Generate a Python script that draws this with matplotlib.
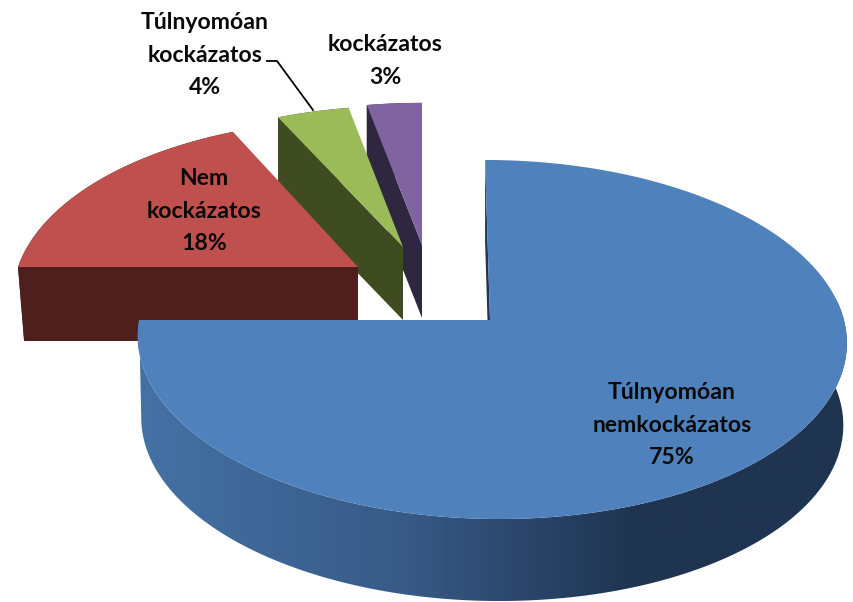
import numpy as np
import matplotlib
matplotlib.use('Agg')
import matplotlib.pyplot as plt
from matplotlib.patches import Polygon
from matplotlib.colors import LinearSegmentedColormap

labels = ['Túlnyomóan\nnemkockázatos', 'Nem\nkockázatos', 'Túlnyomóan\nkockázatos', 'kockázatos']
values = [75, 18, 4, 3]

top_colors = ['#4F81BD', '#C0504D', '#9BBB59', '#8064A2']
side_colors = ['#1F3552', '#4D1F1D', '#3F4B20', '#2F2640']

# apex, radii and perspective of each slice
apex_x = [490, 358, 403, 422]
apex_y = [320, 267, 247, 245]
center_dx = [1.5, 0, 0, 0]
radius = [352.4, 340, 340, 345]
radius_y = [177.4, 173, 166, 167]
persp = [0.1086, 0.175, 0.175, 0.175]
lean = [0.04, 0, 0, 0]
# wall height and narrowing at the bottom
wall = [82, 74, 73, 73]
shrink = [0.01, 0.018, 0, 0]

label_x = [672, 204, 205, 385]
label_y = [425, 211, 55, 61]


def rim(i, theta, bottom=False):
    # one point of slice i at angle theta (clockwise from 12 o'clock)
    f = 1 / (1 + persp[i] * np.cos(theta))
    dy = radius_y[i] * np.cos(theta) * f
    cx = apex_x[i] + center_dx[i]
    x = cx + radius[i] * np.sin(theta) * f - lean[i] * dy
    y = apex_y[i] - dy
    if bottom:
        x = cx + radius[i] * np.sin(theta) * f * (1 - shrink[i]) - lean[i] * dy
        y = y + wall[i]
    return x, y


fig = plt.figure(figsize=(8.54, 6.02), dpi=100)
ax = fig.add_axes([0, 0, 1, 1])
ax.set_xlim(0, 854)
ax.set_ylim(602, 0)
ax.axis('off')

edges = np.cumsum([0] + values) / sum(values) * 2 * np.pi

# back slices first, the big blue one goes on top
for i in [3, 2, 1, 0]:
    t = np.linspace(edges[i], edges[i + 1], 300)
    xt, yt = rim(i, t)
    xb, yb = rim(i, t, True)
    z = i * -3 + 10

    # the cut face at the start angle
    x0, y0 = rim(i, edges[i])
    x1, y1 = rim(i, edges[i], True)
    cut = [(apex_x[i], apex_y[i]), (x0, y0), (x1, y1), (apex_x[i], apex_y[i] + wall[i])]
    ax.add_patch(Polygon(cut, closed=True, fc=side_colors[i], ec='none', zorder=z))

    # outer wall
    if i == 0:
        # stop the bottom rim at its widest point so the left outline stays smooth
        keep = t <= 2 * np.pi - np.arccos(-persp[0])
        outer = np.column_stack([np.r_[xt, xb[keep][::-1]], np.r_[yt, yb[keep][::-1]]])
        cmap = LinearSegmentedColormap.from_list('wall', [(0, '#4572A6'), (0.37, '#385B87'),
                                                          (0.70, '#1F3450'), (1, '#1F3450')])
        grad = np.linspace(0, 1, 256).reshape(1, -1)
        im = ax.imshow(grad, cmap=cmap, extent=[130, 854, 602, 300], aspect='auto', zorder=z + 1)
        im.set_clip_path(Polygon(outer, closed=True, transform=ax.transData))
    else:
        outer = np.column_stack([np.r_[xt, xb[::-1]], np.r_[yt, yb[::-1]]])
        ax.add_patch(Polygon(outer, closed=True, fc=side_colors[i], ec='none', zorder=z + 1))

    face = np.column_stack([np.r_[apex_x[i], xt], np.r_[apex_y[i], yt]])
    ax.add_patch(Polygon(face, closed=True, fc=top_colors[i], ec='none', zorder=z + 2))

ax.set_xlim(0, 854)
ax.set_ylim(602, 0)

for i in range(4):
    ax.text(label_x[i], label_y[i], labels[i] + '\n' + str(values[i]) + '%', ha='center', va='center',
            family='Lato', fontweight='bold', fontsize=16.6, linespacing=1.65, color='#0a0a0a', zorder=20)

# leader line of the 4% label
ax.plot([267, 277, 313], [61, 61, 110], color='black', lw=1.3, zorder=15)

fig.savefig('out.png', dpi=100)
